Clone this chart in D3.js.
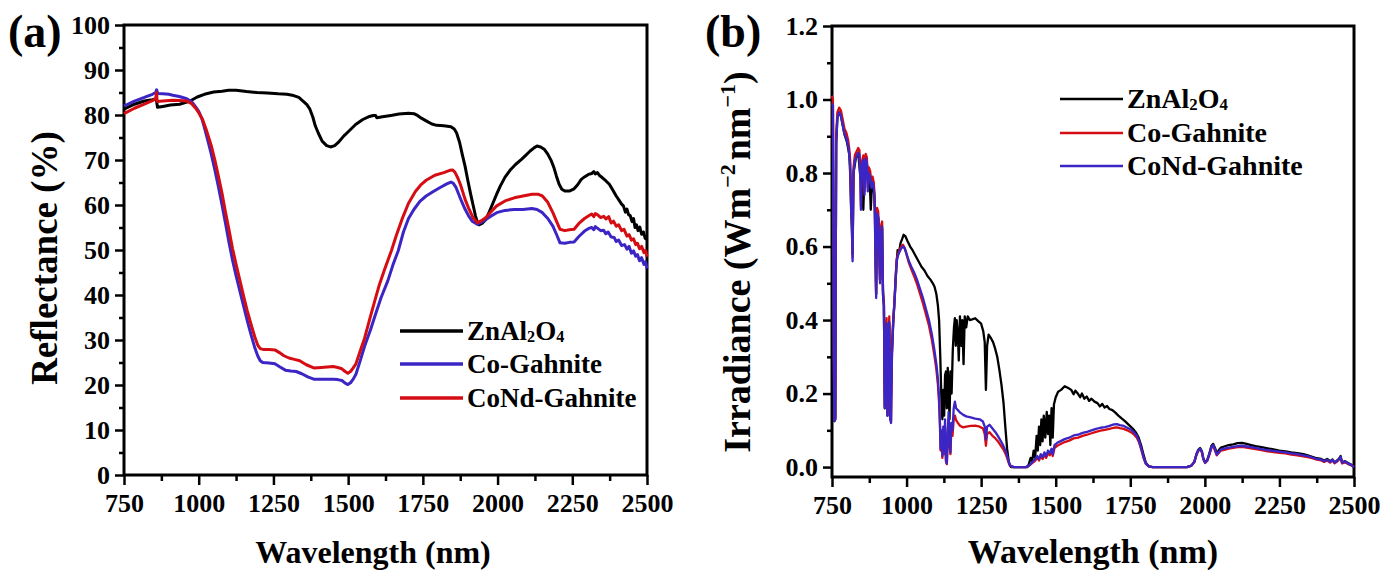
<!DOCTYPE html>
<html>
<head>
<meta charset="utf-8">
<script src="https://cdn.jsdelivr.net/npm/d3@7"></script>
<style>
  body { margin: 0; background: #fff; }
  svg text { font-family: 'Liberation Serif', 'Times New Roman', serif; font-weight: bold; fill: #000; }
</style>
</head>
<body>
<svg id="chart" width="1392" height="574"></svg>
<script>
// ---- data ----
let seriesNamesA = ['ZnAl2O4', 'Co-Gahnite', 'CoNd-Gahnite']
let seriesNamesB = ['ZnAl2O4', 'Co-Gahnite', 'CoNd-Gahnite']

let xTicks = [750, 1000, 1250, 1500, 1750, 2000, 2250, 2500]
let xMinorTicks = [875, 1125, 1375, 1625, 1875, 2125, 2375]
let reflTicks = [0, 10, 20, 30, 40, 50, 60, 70, 80, 90, 100]
let reflMinorTicks = [5, 15, 25, 35, 45, 55, 65, 75, 85, 95]
let irrTicks = [0, 0.2, 0.4, 0.6, 0.8, 1.0, 1.2]
let irrMinorTicks = [0.1, 0.3, 0.5, 0.7, 0.9, 1.1]

// (a) reflectance, [wavelength nm, %]
let reflZn = [[750,81.3],[785,82.4],[818,83.1],[845,83.4],[858,83.6],[862,81.7],[880,81.9],[905,82.2],[936,82.4],[971,83.1],[995,84.0],[1019,84.6],[1050,85.1],[1078,85.3],[1100,85.5],[1125,85.5],[1160,85.2],[1195,85.0],[1230,84.9],[1266,84.7],[1295,84.6],[1313,84.4],[1335,83.9],[1349,83.1],[1362,82.3],[1372,81.3],[1382,79.5],[1390,77.6],[1400,76.0],[1413,74.2],[1428,73.2],[1441,72.9],[1455,73.2],[1467,73.9],[1485,75.3],[1502,76.4],[1525,77.9],[1549,79.0],[1568,79.6],[1584,79.9],[1592,79.9],[1596,79.4],[1615,79.6],[1643,79.9],[1670,80.2],[1702,80.4],[1720,80.3],[1732,79.9],[1745,79.3],[1761,78.7],[1780,78.0],[1796,77.7],[1820,77.6],[1844,77.4],[1855,76.9],[1863,76.0],[1873,73.9],[1882,71.2],[1891,68.7],[1900,65.6],[1909,62.7],[1918,60.0],[1926,57.6],[1933,56.0],[1938,55.6],[1948,55.9],[1961,56.8],[1973,58.6],[1985,60.5],[1997,62.4],[2009,64.2],[2025,66.2],[2044,67.9],[2060,69.0],[2079,70.1],[2095,71.1],[2109,72.0],[2122,72.7],[2132,73.1],[2144,72.9],[2156,72.4],[2168,71.3],[2180,69.8],[2189,68.2],[2197,66.4],[2206,64.6],[2215,63.5],[2225,63.1],[2240,63.1],[2256,63.6],[2268,64.5],[2280,65.7],[2292,66.3],[2304,66.8],[2315,67.0],[2322,67.4],[2327,66.9],[2334,67.2],[2342,66.5],[2350,66.1],[2362,65.4],[2374,64.6],[2385,63.4],[2397,62.0],[2408,60.9],[2415,60.2],[2421,59.8],[2428,58.4],[2433,59.1],[2438,57.9],[2444,57.6],[2450,56.3],[2455,57.0],[2460,55.0],[2465,55.6],[2470,54.3],[2476,55.1],[2482,53.5],[2488,54.0],[2494,52.6],[2500,52.4]]

let reflCo = [[750,82.0],[785,83.1],[818,83.9],[845,84.6],[856,85.0],[859,85.6],[863,84.8],[880,84.7],[900,84.6],[913,84.4],[935,84.1],[960,83.6],[975,83.0],[983,82.4],[992,81.6],[1000,80.8],[1010,79.3],[1020,77.0],[1030,74.5],[1042,71.3],[1054,67.8],[1066,64.0],[1078,60.0],[1090,55.8],[1101,51.8],[1113,47.8],[1125,44.3],[1138,40.8],[1150,37.6],[1162,34.4],[1175,31.2],[1188,28.2],[1198,26.4],[1206,25.4],[1214,25.0],[1235,24.9],[1255,24.7],[1272,24.0],[1290,23.3],[1308,23.1],[1326,23.0],[1345,22.5],[1365,21.8],[1385,21.3],[1410,21.3],[1430,21.3],[1450,21.3],[1465,21.2],[1479,21.0],[1490,20.4],[1499,20.1],[1508,20.5],[1517,21.3],[1526,22.4],[1540,25.3],[1555,28.6],[1574,32.1],[1590,35.4],[1610,39.4],[1633,43.2],[1650,46.7],[1668,49.9],[1685,54.0],[1702,57.0],[1720,59.0],[1740,60.8],[1761,62.0],[1785,63.0],[1808,63.9],[1830,64.7],[1844,65.1],[1852,64.8],[1861,63.9],[1870,62.4],[1879,60.9],[1891,59.1],[1903,57.6],[1915,56.4],[1932,55.7],[1946,56.2],[1961,56.8],[1980,57.6],[1997,58.3],[2025,58.8],[2056,59.0],[2085,59.0],[2115,59.2],[2132,59.0],[2150,58.3],[2168,57.0],[2185,55.3],[2197,53.5],[2209,51.6],[2225,51.5],[2240,51.7],[2256,51.8],[2272,53.0],[2291,54.2],[2305,54.8],[2315,55.0],[2322,54.5],[2327,55.2],[2335,54.8],[2345,54.3],[2355,54.4],[2362,53.6],[2370,54.0],[2380,52.9],[2390,52.8],[2397,51.9],[2405,52.2],[2415,51.0],[2425,51.2],[2433,50.2],[2440,50.8],[2448,49.3],[2455,49.8],[2462,48.6],[2468,49.0],[2475,47.6],[2482,48.3],[2490,46.8],[2495,47.4],[2500,45.9]]

let reflCoNd = [[750,80.3],[785,81.5],[818,82.4],[845,83.2],[856,83.6],[859,85.0],[861,83.0],[880,83.1],[913,83.3],[935,83.2],[960,83.1],[975,82.6],[983,82.0],[992,81.3],[1000,80.5],[1013,79.0],[1025,76.8],[1042,73.2],[1054,70.0],[1066,66.4],[1078,62.6],[1089,58.6],[1101,54.6],[1113,50.4],[1125,46.8],[1138,43.2],[1150,39.8],[1162,36.6],[1175,33.5],[1188,30.6],[1198,28.8],[1206,28.1],[1215,27.9],[1235,27.9],[1255,27.8],[1270,27.2],[1285,26.5],[1302,26.0],[1320,25.7],[1338,25.4],[1360,24.5],[1385,23.8],[1410,23.9],[1430,24.0],[1450,24.1],[1465,23.9],[1479,23.6],[1490,23.0],[1499,22.6],[1508,23.0],[1517,23.8],[1526,24.7],[1540,27.5],[1555,30.4],[1574,35.1],[1590,38.9],[1605,42.4],[1621,45.5],[1645,49.9],[1660,53.0],[1680,56.8],[1702,60.4],[1725,63.0],[1745,64.6],[1761,65.5],[1790,66.6],[1820,67.2],[1840,67.7],[1850,67.8],[1858,67.2],[1867,66.0],[1876,64.5],[1884,62.8],[1891,61.3],[1903,59.3],[1918,57.2],[1932,56.1],[1946,56.5],[1961,57.2],[1980,58.6],[1997,59.8],[2025,60.9],[2056,61.6],[2085,62.0],[2115,62.4],[2135,62.4],[2150,62.0],[2168,60.6],[2185,58.3],[2197,56.4],[2209,54.6],[2225,54.3],[2240,54.5],[2256,54.6],[2272,55.9],[2291,57.0],[2305,57.6],[2315,58.0],[2322,57.4],[2327,58.1],[2335,57.8],[2345,57.2],[2355,57.5],[2362,56.9],[2372,57.4],[2380,56.0],[2388,56.4],[2397,55.3],[2405,55.6],[2415,54.3],[2423,54.6],[2433,53.1],[2440,53.4],[2448,52.2],[2455,52.5],[2462,51.2],[2468,51.5],[2475,50.3],[2482,50.8],[2490,49.4],[2495,49.9],[2500,48.5]]

// (b) irradiance, [wavelength nm, W m-2 nm-1]
let irrZn = [[750,0.99],[753,0.985],[756,0.3],[758,0.125],[761,0.13],[764,0.88],[768,0.95],[774,0.965],[780,0.955],[786,0.93],[792,0.905],[800,0.885],[808,0.85],[812,0.78],[816,0.66],[819,0.58],[822,0.8],[830,0.84],[838,0.855],[845,0.79],[850,0.82],[855,0.70],[859,0.8],[863,0.84],[868,0.82],[872,0.76],[876,0.79],[880,0.70],[884,0.77],[890,0.76],[894,0.70],[898,0.47],[901,0.69],[906,0.675],[911,0.51],[914,0.64],[918,0.65],[921,0.47],[924,0.44],[927,0.16],[930,0.34],[933,0.39],[936,0.14],[939,0.3],[942,0.39],[946,0.13],[950,0.3],[955,0.39],[960,0.46],[965,0.54],[970,0.59],[975,0.585],[980,0.61],[985,0.62],[990,0.632],[996,0.628],[1003,0.615],[1012,0.60],[1020,0.59],[1030,0.575],[1040,0.56],[1050,0.545],[1060,0.535],[1070,0.52],[1080,0.51],[1088,0.50],[1094,0.49],[1100,0.47],[1105,0.44],[1109,0.40],[1113,0.30],[1117,0.18],[1120,0.13],[1123,0.21],[1126,0.14],[1129,0.25],[1132,0.26],[1135,0.16],[1138,0.27],[1141,0.21],[1144,0.13],[1147,0.26],[1151,0.2],[1155,0.32],[1159,0.38],[1162,0.405],[1165,0.33],[1168,0.40],[1172,0.36],[1175,0.29],[1179,0.41],[1183,0.33],[1187,0.40],[1191,0.28],[1195,0.41],[1200,0.38],[1205,0.41],[1212,0.40],[1220,0.402],[1230,0.405],[1240,0.397],[1250,0.39],[1257,0.37],[1262,0.34],[1266,0.21],[1270,0.33],[1275,0.36],[1282,0.352],[1290,0.34],[1297,0.322],[1304,0.30],[1311,0.265],[1318,0.225],[1325,0.175],[1331,0.11],[1337,0.05],[1343,0.012],[1350,0.0],[1405,0.0],[1410,0.008],[1416,0.025],[1421,0.015],[1426,0.045],[1431,0.025],[1436,0.085],[1440,0.045],[1444,0.11],[1448,0.06],[1452,0.13],[1456,0.07],[1460,0.14],[1465,0.08],[1470,0.15],[1474,0.09],[1478,0.14],[1482,0.06],[1486,0.16],[1490,0.08],[1494,0.17],[1500,0.19],[1508,0.205],[1518,0.21],[1530,0.22],[1542,0.215],[1552,0.21],[1560,0.198],[1566,0.208],[1574,0.2],[1582,0.19],[1588,0.2],[1596,0.186],[1604,0.192],[1612,0.18],[1620,0.186],[1630,0.178],[1640,0.174],[1648,0.165],[1656,0.172],[1664,0.162],[1672,0.166],[1680,0.158],[1690,0.155],[1700,0.148],[1710,0.14],[1720,0.133],[1732,0.125],[1745,0.115],[1758,0.105],[1768,0.095],[1778,0.08],[1786,0.06],[1794,0.035],[1802,0.012],[1812,0.002],[1825,0.0],[1940,0.0],[1955,0.004],[1965,0.015],[1972,0.036],[1978,0.047],[1984,0.052],[1990,0.043],[1995,0.023],[2001,0.013],[2008,0.019],[2015,0.037],[2022,0.058],[2028,0.063],[2034,0.052],[2040,0.038],[2046,0.045],[2054,0.053],[2065,0.056],[2080,0.06],[2095,0.062],[2110,0.065],[2125,0.066],[2140,0.063],[2155,0.06],[2170,0.057],[2190,0.054],[2210,0.051],[2230,0.048],[2250,0.045],[2270,0.043],[2290,0.04],[2310,0.038],[2330,0.035],[2345,0.032],[2360,0.028],[2375,0.024],[2390,0.022],[2400,0.018],[2410,0.022],[2420,0.016],[2428,0.021],[2435,0.013],[2442,0.017],[2450,0.023],[2455,0.03],[2460,0.013],[2470,0.016],[2480,0.011],[2490,0.007],[2500,0.0]]

let irrCo = [[750,1.01],[753,1.0],[756,0.31],[758,0.13],[761,0.135],[764,0.9],[768,0.965],[774,0.978],[780,0.97],[786,0.945],[792,0.92],[798,0.91],[804,0.89],[808,0.865],[811,0.835],[814,0.71],[817,0.67],[819,0.57],[822,0.815],[827,0.85],[832,0.858],[838,0.868],[842,0.862],[845,0.79],[847,0.71],[850,0.83],[855,0.848],[859,0.75],[863,0.852],[867,0.842],[870,0.76],[874,0.815],[878,0.805],[882,0.775],[886,0.79],[890,0.775],[893,0.735],[896,0.56],[898,0.47],[901,0.705],[905,0.695],[908,0.61],[911,0.51],[914,0.655],[918,0.668],[921,0.48],[924,0.45],[927,0.165],[930,0.35],[933,0.405],[936,0.145],[939,0.31],[942,0.41],[945,0.135],[948,0.125],[951,0.31],[955,0.395],[959,0.445],[963,0.505],[967,0.565],[971,0.58],[976,0.59],[982,0.6],[988,0.605],[994,0.595],[1000,0.578],[1008,0.555],[1016,0.538],[1025,0.52],[1035,0.498],[1045,0.472],[1055,0.445],[1065,0.415],[1075,0.385],[1085,0.345],[1093,0.305],[1100,0.265],[1105,0.225],[1109,0.175],[1112,0.11],[1114,0.045],[1117,0.09],[1120,0.025],[1123,0.1],[1126,0.035],[1129,0.11],[1132,0.015],[1135,0.008],[1138,0.075],[1141,0.13],[1144,0.06],[1147,0.035],[1150,0.1],[1154,0.085],[1158,0.13],[1162,0.14],[1166,0.128],[1172,0.12],[1180,0.112],[1190,0.108],[1200,0.11],[1215,0.112],[1230,0.113],[1245,0.11],[1256,0.105],[1262,0.09],[1266,0.058],[1270,0.09],[1278,0.095],[1288,0.085],[1298,0.078],[1308,0.068],[1318,0.056],[1326,0.046],[1334,0.032],[1341,0.015],[1347,0.003],[1360,0.0],[1400,0.0],[1410,0.003],[1420,0.01],[1430,0.016],[1438,0.025],[1444,0.018],[1450,0.03],[1456,0.022],[1462,0.034],[1468,0.025],[1474,0.038],[1480,0.032],[1486,0.044],[1490,0.03],[1496,0.052],[1505,0.058],[1515,0.062],[1530,0.068],[1545,0.072],[1560,0.078],[1575,0.08],[1590,0.085],[1605,0.088],[1620,0.092],[1635,0.096],[1650,0.099],[1665,0.101],[1680,0.104],[1695,0.107],[1705,0.108],[1715,0.106],[1728,0.104],[1740,0.1],[1752,0.095],[1762,0.089],[1772,0.08],[1780,0.066],[1787,0.047],[1794,0.026],[1802,0.009],[1812,0.002],[1825,0.0],[1940,0.0],[1955,0.004],[1965,0.014],[1972,0.033],[1978,0.044],[1984,0.048],[1990,0.04],[1995,0.021],[2001,0.011],[2008,0.017],[2015,0.033],[2022,0.052],[2028,0.057],[2034,0.045],[2040,0.032],[2046,0.038],[2054,0.045],[2065,0.047],[2080,0.05],[2095,0.052],[2110,0.054],[2125,0.055],[2140,0.053],[2155,0.051],[2170,0.049],[2190,0.046],[2210,0.043],[2230,0.041],[2250,0.039],[2270,0.037],[2290,0.034],[2310,0.032],[2330,0.029],[2345,0.027],[2360,0.024],[2375,0.02],[2390,0.018],[2400,0.014],[2410,0.018],[2420,0.012],[2428,0.018],[2435,0.01],[2442,0.014],[2450,0.02],[2455,0.025],[2460,0.01],[2470,0.013],[2480,0.008],[2490,0.005],[2500,0.0]]

let irrCoNd = [[750,0.99],[753,0.985],[756,0.30],[758,0.125],[761,0.13],[764,0.88],[768,0.95],[774,0.965],[780,0.955],[786,0.93],[792,0.905],[798,0.895],[804,0.875],[808,0.85],[811,0.82],[814,0.70],[817,0.66],[819,0.56],[822,0.80],[827,0.835],[832,0.845],[838,0.855],[842,0.85],[845,0.78],[847,0.70],[850,0.82],[855,0.835],[859,0.74],[863,0.84],[867,0.83],[870,0.75],[874,0.80],[878,0.79],[882,0.76],[886,0.775],[890,0.76],[893,0.72],[896,0.55],[898,0.46],[901,0.69],[905,0.68],[908,0.60],[911,0.50],[914,0.64],[918,0.655],[921,0.47],[924,0.44],[927,0.16],[930,0.34],[933,0.39],[936,0.14],[939,0.30],[942,0.395],[945,0.13],[948,0.12],[951,0.30],[955,0.39],[959,0.44],[963,0.50],[967,0.56],[971,0.575],[976,0.585],[982,0.595],[988,0.60],[994,0.595],[1000,0.58],[1008,0.56],[1016,0.545],[1025,0.53],[1035,0.51],[1045,0.485],[1055,0.46],[1065,0.43],[1075,0.40],[1085,0.36],[1093,0.32],[1100,0.28],[1105,0.24],[1109,0.19],[1112,0.12],[1114,0.05],[1117,0.10],[1120,0.03],[1123,0.11],[1126,0.04],[1129,0.13],[1132,0.02],[1135,0.01],[1138,0.09],[1141,0.15],[1144,0.07],[1147,0.04],[1150,0.12],[1154,0.10],[1158,0.16],[1162,0.178],[1166,0.16],[1172,0.155],[1180,0.148],[1190,0.142],[1200,0.138],[1215,0.135],[1230,0.132],[1245,0.13],[1256,0.124],[1262,0.11],[1266,0.075],[1270,0.11],[1278,0.115],[1288,0.105],[1298,0.095],[1308,0.082],[1318,0.068],[1326,0.055],[1334,0.04],[1341,0.02],[1347,0.004],[1360,0.0],[1400,0.0],[1410,0.004],[1420,0.012],[1430,0.02],[1438,0.03],[1444,0.022],[1450,0.035],[1456,0.027],[1462,0.04],[1468,0.03],[1474,0.045],[1480,0.038],[1486,0.05],[1490,0.035],[1496,0.06],[1505,0.066],[1515,0.07],[1530,0.076],[1545,0.08],[1560,0.086],[1575,0.088],[1590,0.093],[1605,0.096],[1620,0.1],[1635,0.104],[1650,0.107],[1665,0.109],[1680,0.112],[1695,0.116],[1705,0.117],[1715,0.114],[1728,0.112],[1740,0.107],[1752,0.102],[1762,0.095],[1772,0.085],[1780,0.07],[1787,0.05],[1794,0.028],[1802,0.01],[1812,0.002],[1825,0.0],[1940,0.0],[1955,0.004],[1965,0.015],[1972,0.035],[1978,0.046],[1984,0.05],[1990,0.042],[1995,0.022],[2001,0.012],[2008,0.018],[2015,0.035],[2022,0.055],[2028,0.06],[2034,0.048],[2040,0.034],[2046,0.04],[2054,0.048],[2065,0.05],[2080,0.053],[2095,0.055],[2110,0.057],[2125,0.058],[2140,0.056],[2155,0.054],[2170,0.052],[2190,0.049],[2210,0.046],[2230,0.044],[2250,0.042],[2270,0.04],[2290,0.037],[2310,0.035],[2330,0.032],[2345,0.03],[2360,0.026],[2375,0.022],[2390,0.02],[2400,0.016],[2410,0.02],[2420,0.014],[2428,0.02],[2435,0.012],[2442,0.016],[2450,0.022],[2455,0.028],[2460,0.012],[2470,0.015],[2480,0.01],[2490,0.006],[2500,0.0]]

// ---- layout ----
let black = '#000000'
let blue = '#3b25c5'
let red = '#d50d12'

let panelA = { left: 124, right: 647, top: 25, bottom: 475 }
let panelB = { left: 832, right: 1354, top: 26, bottom: 477 }

var svg = d3.select('#chart')

function drawAxes(p, x, y, yTicks, yMinor, yFormat) {
  let g = svg.append('g')

  g.append('g')
    .attr('transform', `translate(0,${p.bottom})`)
    .call(
      d3
        .axisBottom(x)
        .tickValues(xTicks)
        .tickSize(10)
        .tickSizeOuter(0)
        .tickPadding(9)
        .tickFormat(d3.format('d'))
    )
  g.append('g')
    .attr('transform', `translate(0,${p.bottom})`)
    .call(
      d3
        .axisBottom(x)
        .tickValues(xMinorTicks)
        .tickSize(6)
        .tickSizeOuter(0)
        .tickFormat('')
    )

  g.append('g')
    .attr('transform', `translate(${p.left},0)`)
    .call(
      d3
        .axisLeft(y)
        .tickValues(yTicks)
        .tickSize(9)
        .tickSizeOuter(0)
        .tickPadding(5)
        .tickFormat(yFormat)
    )
  g.append('g')
    .attr('transform', `translate(${p.left},0)`)
    .call(
      d3
        .axisLeft(y)
        .tickValues(yMinor)
        .tickSize(5)
        .tickSizeOuter(0)
        .tickFormat('')
    )

  g.selectAll('.domain').remove()
  g.selectAll('.tick line')
    .attr('stroke', '#000')
    .attr('stroke-width', 2.5)
  g.selectAll('.tick text')
    .attr('font-size', 26)
    .attr('fill', '#000')

  // frame
  g.append('rect')
    .attr('x', p.left)
    .attr('y', p.top)
    .attr('width', p.right - p.left)
    .attr('height', p.bottom - p.top)
    .attr('fill', 'none')
    .attr('stroke', '#000')
    .attr('stroke-width', 3)
}

function drawLines(x, y, list, width) {
  let line = d3
    .line()
    .x(d => x(d[0]))
    .y(d => y(d[1]))

  svg
    .append('g')
    .selectAll('path')
    .data(list)
    .enter()
    .append('path')
    .attr('d', d => line(d.values))
    .attr('fill', 'none')
    .attr('stroke', d => d.color)
    .attr('stroke-width', width)
    .attr('stroke-linejoin', 'round')
}

function legendLabel(sel, name, size) {
  if (name === 'ZnAl2O4') {
    sel.append('tspan').text('ZnAl')
    sel.append('tspan').text('2').attr('font-size', size * 0.6).attr('dy', 2)
    sel.append('tspan').text('O').attr('dy', -2)
    sel.append('tspan').text('4').attr('font-size', size * 0.6).attr('dy', 2)
  } else {
    sel.text(name)
  }
}

function drawLegend(items, x0, x1, rows, size, width) {
  let g = svg.append('g')
  items.forEach((d, i) => {
    g.append('line')
      .attr('x1', x0)
      .attr('x2', x1)
      .attr('y1', rows[i])
      .attr('y2', rows[i])
      .attr('stroke', d.color)
      .attr('stroke-width', width)
    let t = g
      .append('text')
      .attr('x', x1 + 4)
      .attr('y', rows[i] + size * 0.33)
      .attr('font-size', size)
    legendLabel(t, d.name, size)
  })
}

// ---- panel (a) ----
let xA = d3.scaleLinear().domain([750, 2500]).range([panelA.left, panelA.right])
let yA = d3.scaleLinear().domain([0, 100]).range([panelA.bottom, panelA.top])

drawAxes(panelA, xA, yA, reflTicks, reflMinorTicks, d3.format('d'))

let listA = [
  { name: seriesNamesA[0], values: reflZn, color: black },
  { name: seriesNamesA[1], values: reflCo, color: blue },
  { name: seriesNamesA[2], values: reflCoNd, color: red }
]
drawLines(xA, yA, listA, 3)
drawLegend(listA, 400, 463, [331, 364, 398], 27, 3.5)

svg.append('text')
  .attr('x', 8)
  .attr('y', 47)
  .attr('font-size', 46)
  .text('(a)')

svg.append('text')
  .attr('text-anchor', 'middle')
  .attr('x', 373)
  .attr('y', 563)
  .attr('font-size', 32)
  .text('Wavelength (nm)')

svg.append('text')
  .attr('text-anchor', 'middle')
  .attr('transform', 'translate(57,258)rotate(-90)')
  .attr('font-size', 37)
  .text('Reflectance (%)')

// ---- panel (b) ----
let xB = d3.scaleLinear().domain([750, 2500]).range([panelB.left, panelB.right])
let yB = d3.scaleLinear().domain([-0.027, 1.2]).range([panelB.bottom, panelB.top])

drawAxes(panelB, xB, yB, irrTicks, irrMinorTicks, d3.format('.1f'))

let listB = [
  { name: seriesNamesB[0], values: irrZn, color: black },
  { name: seriesNamesB[1], values: irrCo, color: red },
  { name: seriesNamesB[2], values: irrCoNd, color: blue }
]
drawLines(xB, yB, listB, 2.3)
drawLegend(listB, 1060, 1123, [99, 133, 166], 28, 2.5)

svg.append('text')
  .attr('x', 705)
  .attr('y', 47)
  .attr('font-size', 46)
  .text('(b)')

svg.append('text')
  .attr('text-anchor', 'middle')
  .attr('x', (panelB.left + panelB.right) / 2)
  .attr('y', 563)
  .attr('font-size', 34)
  .text('Wavelength (nm)')

let yTitle = svg.append('text')
  .attr('text-anchor', 'middle')
  .attr('transform', `translate(750,262)rotate(-90)`)
  .attr('font-size', 38)
yTitle.append('tspan').text('Irradiance (Wm')
yTitle.append('tspan').text('\u22122').attr('font-size', 22).attr('dy', -15)
yTitle.append('tspan').text('nm').attr('dy', 15).attr('dx', 4)
yTitle.append('tspan').text('\u22121').attr('font-size', 22).attr('dy', -15)
yTitle.append('tspan').text(')').attr('dy', 15)
</script>
</body>
</html>
